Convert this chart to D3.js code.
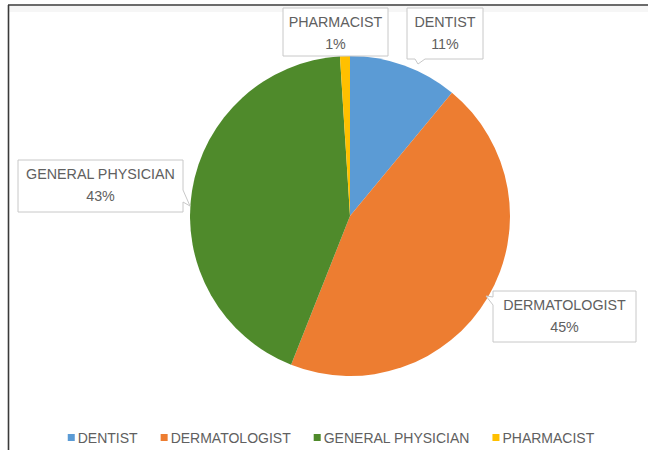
<!DOCTYPE html>
<html>
<head>
<meta charset="utf-8">
<script src="https://cdn.jsdelivr.net/npm/d3@7"></script>
<style>
  html, body { margin: 0; padding: 0; background: #fff; }
  svg { display: block; }
  text { font-family: "Liberation Sans", Arial, sans-serif; fill: #606060; }
</style>
</head>
<body>
<svg id="chart" width="648" height="450"></svg>
<script>
// Share of respondents by type of practitioner (%)
const categories = ["DENTIST", "DERMATOLOGIST", "GENERAL PHYSICIAN", "PHARMACIST"];
const shares = [11, 45, 43, 1];
const colors = ["#5B9BD5", "#ED7D31", "#4F8A2B", "#FFC000"];

// Callout boxes: [left, top, width, height] and the tip of each pointer
const calloutLayout = [
  { box: [407, 8, 76, 51], tip: [418, 64], side: "bottom" },
  { box: [493, 291, 143, 51], tip: [486, 296], side: "left" },
  { box: [18, 160, 165, 52], tip: [190, 206], side: "right" },
  { box: [283, 8, 105, 48], tip: null, side: null }
];

const W = 648, H = 450;
const svg = d3.select("#chart");

// Frame lines (top and left edges of the chart area)
svg.append("rect").attr("x", 9).attr("y", 6).attr("width", W - 9).attr("height", 6)
  .attr("fill", "#f6f6f6");
svg.append("line").attr("x1", 8).attr("x2", W).attr("y1", 5).attr("y2", 5)
  .attr("stroke", "#3a3a3a").attr("stroke-width", 1.6);
svg.append("line").attr("x1", 8.5).attr("x2", 8.5).attr("y1", 5).attr("y2", H)
  .attr("stroke", "#3a3a3a").attr("stroke-width", 1.6);

const cx = 350, cy = 216, r = 160;
const pie = d3.pie().sort(null).value(d => d.v);
const arcs = pie(categories.map((c, i) => ({ c, v: shares[i], color: colors[i] })));
const arc = d3.arc().innerRadius(0).outerRadius(r);

const g = svg.append("g").attr("transform", `translate(${cx},${cy})`);
g.selectAll("path").data(arcs).join("path")
  .attr("d", arc)
  .attr("fill", d => d.data.color);

// Callout labels
const total = d3.sum(shares);
arcs.forEach((d, i) => {
  const L = calloutLayout[i];
  const [x, y, w, h] = L.box;
  const lg = svg.append("g");
  let p = `M${x},${y} H${x + w} V${y + h} H${x} Z`;
  if (L.side === "bottom") {
    p = `M${x},${y} H${x + w} V${y + h} H${x + 18} L${L.tip[0]},${L.tip[1]} L${x + 8},${y + h} H${x} Z`;
  } else if (L.side === "left") {
    p = `M${x},${y} H${x + w} V${y + h} H${x} V${y + 14} L${L.tip[0]},${L.tip[1]} L${x},${y + 6} Z`;
  } else if (L.side === "right") {
    p = `M${x},${y} H${x + w} V${y + 30} L${L.tip[0]},${L.tip[1]} L${x + w},${y + 42} V${y + h} H${x} Z`;
  }
  lg.append("path").attr("d", p).attr("fill", "#fff")
    .attr("stroke", "#c8c8c8").attr("stroke-width", 1);
  const pct = Math.round(d.data.v / total * 100) + "%";
  lg.append("text").attr("x", x + w / 2).attr("y", y + 19)
    .attr("text-anchor", "middle").attr("font-size", 14.3).text(d.data.c);
  lg.append("text").attr("x", x + w / 2).attr("y", y + 41)
    .attr("text-anchor", "middle").attr("font-size", 14.3).text(pct);
});

// Legend: items laid out left to right, centred under the plot
const legendCenter = 331, itemGap = 23, swatch = 7, swatchPad = 3;
const lgd = svg.append("g");
const items = categories.map((c, i) => {
  const it = lgd.append("g");
  it.append("rect").attr("y", 434).attr("width", swatch).attr("height", swatch)
    .attr("fill", colors[i]);
  const t = it.append("text").attr("x", swatch + swatchPad).attr("y", 443)
    .attr("font-size", 14).text(c);
  return { it, w: swatch + swatchPad + t.node().getComputedTextLength() };
});
const legendW = d3.sum(items, d => d.w) + itemGap * (items.length - 1);
let lx = legendCenter - legendW / 2;
items.forEach(d => {
  d.it.attr("transform", `translate(${lx},0)`);
  lx += d.w + itemGap;
});
</script>
</body>
</html>
